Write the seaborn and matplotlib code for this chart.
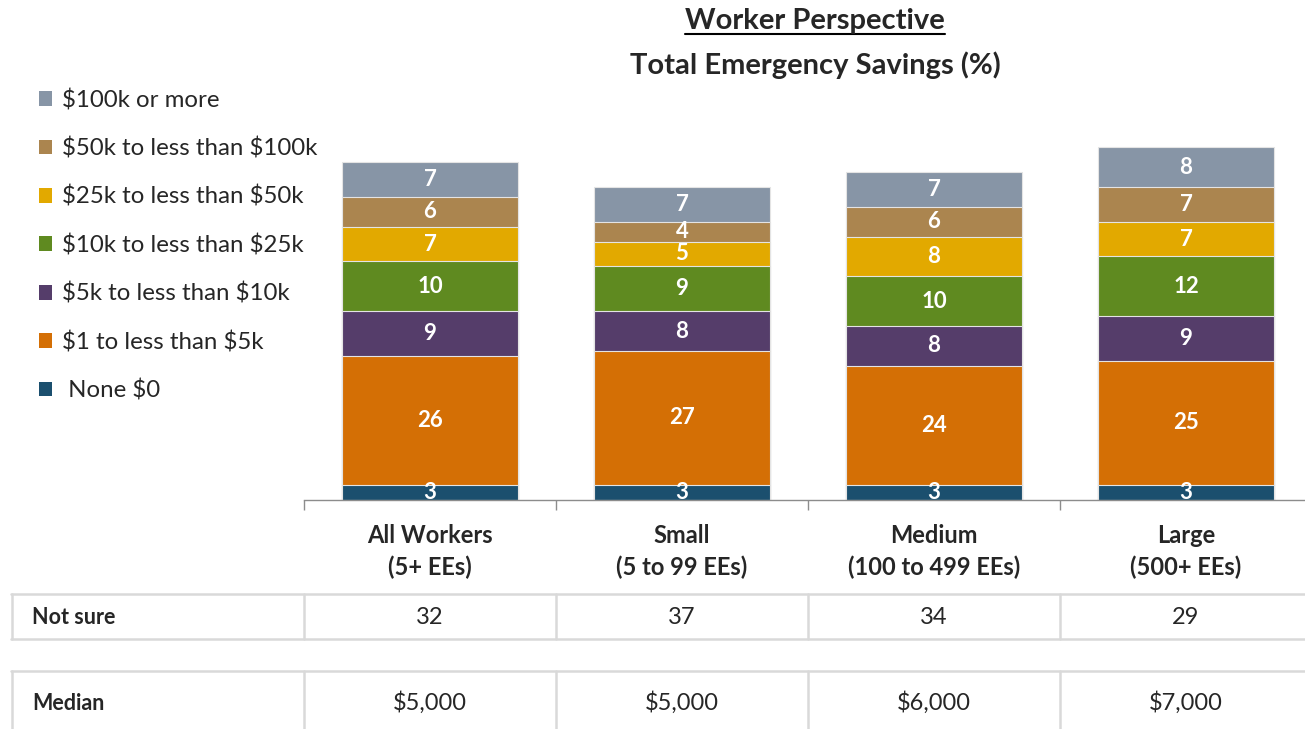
import matplotlib
matplotlib.use("Agg")
import matplotlib.pyplot as plt
import matplotlib.transforms as mtransforms
from matplotlib.lines import Line2D
from matplotlib.patches import Patch
import seaborn as sns
import pandas as pd
import numpy as np

# Data
groups = ["All Workers\n(5+ EEs)", "Small\n(5 to 99 EEs)",
          "Medium\n(100 to 499 EEs)", "Large\n(500+ EEs)"]
bands = ["None $0", "$1 to less than $5k", "$5k to less than $10k",
         "$10k to less than $25k", "$25k to less than $50k",
         "$50k to less than $100k", "$100k or more"]
none_0 = [3, 3, 3, 3]
k1_to_5 = [26, 27, 24, 25]
k5_to_10 = [9, 8, 8, 9]
k10_to_25 = [10, 9, 10, 12]
k25_to_50 = [7, 5, 8, 7]
k50_to_100 = [6, 4, 6, 7]
k100_plus = [7, 7, 7, 8]
not_sure = [32, 37, 34, 29]
median = ["$5,000", "$5,000", "$6,000", "$7,000"]

colors = ["#1B4F6E", "#D46F05", "#553D6A", "#5F8A20",
          "#E2A900", "#AB854F", "#8795A6"]

sns.set_theme(style="white")
plt.rcParams["font.family"] = ["Lato", "DejaVu Sans"]
plt.rcParams["text.parse_math"] = False

W, H = 1305, 729
fig = plt.figure(figsize=(W / 100, H / 100), dpi=100)
px = 4.97  # pixels per percentage point
ax = fig.add_axes([304 / W, 1 - 500 / H, 1008 / W, 80 * px / H])

stack = np.array([none_0, k1_to_5, k5_to_10, k10_to_25,
                  k25_to_50, k50_to_100, k100_plus])
tops = stack.cumsum(axis=0)

# stacked bars: tallest cumulative first, then smaller ones over it
for i in reversed(range(len(bands))):
    sub = pd.DataFrame({"group": groups, "top": tops[i]})
    sns.barplot(data=sub, x="group", y="top", order=groups, color=colors[i],
                saturation=1, width=0.7, errorbar=None, ax=ax,
                edgecolor="#E4E4E4", linewidth=0.8)

for i in range(len(bands)):
    for j in range(len(groups)):
        ax.text(j, tops[i][j] - stack[i][j] / 2, str(stack[i][j]),
                ha="center", va="center", color="white",
                fontsize=16, fontweight="bold")

ax.set_xlim(-0.5, 3.5)
ax.set_ylim(0, 80)
ax.set_xlabel("")
ax.set_ylabel("")
ax.set_yticks([])
ax.set_xticks([-0.5, 0.5, 1.5, 2.5, 3.5])
ax.set_xticklabels([])
ax.set_xticks(range(len(groups)), minor=True)
ax.set_xticklabels(groups, minor=True, fontsize=17, fontweight="bold",
                   linespacing=1.45)
ax.tick_params(axis="x", which="major", bottom=True, length=7.5,
               width=1, color="#8C8C8C")
ax.tick_params(axis="x", which="minor", bottom=True, length=0, pad=17)
for s in ["left", "top", "right"]:
    ax.spines[s].set_visible(False)
ax.spines["bottom"].set_color("#8C8C8C")
ax.spines["bottom"].set_linewidth(1)

# legend (top band first)
handles = [Patch(facecolor=colors[i], edgecolor="none")
           for i in reversed(range(len(bands)))]
labels = [bands[i] if i else " " + bands[i] for i in reversed(range(len(bands)))]
fig.legend(handles, labels, loc="upper left",
           bbox_to_anchor=(39 / W, 1 - 89 / H), frameon=False,
           fontsize=17.3, labelspacing=1.1, handlelength=0.56,
           handleheight=0.56, handletextpad=0.38, borderpad=0,
           borderaxespad=0)

# titles
t1 = fig.text(815 / W, 1 - 29 / H, "Worker Perspective", ha="center",
              va="baseline", fontsize=21, fontweight="bold")
fig.text(815 / W, 1 - 74 / H, "Total Emergency Savings (%)", ha="center",
         va="baseline", fontsize=21, fontweight="bold")
fig.canvas.draw()
bb = t1.get_window_extent()
uy = (1 - 34 / H)
fig.add_artist(Line2D([bb.x0 / W, bb.x1 / W], [uy, uy],
                      transform=fig.transFigure, color="black", lw=1.5))

# table below the chart
grid_c = "#D9D9D9"
trans = mtransforms.blended_transform_factory(ax.transData, fig.transFigure)
rows = [(594, 639, 617, "Not sure", [str(v) for v in not_sure]),
        (671, 740, 703, "Median", median)]
for y0, y1, yc, name, vals in rows:
    f0, f1 = 1 - y0 / H, 1 - y1 / H
    for f in (f0, f1):
        fig.add_artist(Line2D([11 / W, 1], [f, f], transform=fig.transFigure,
                              color=grid_c, lw=1.8))
    fig.add_artist(Line2D([12 / W, 12 / W], [f0, f1], transform=fig.transFigure,
                          color=grid_c, lw=1.8))
    for b in [-0.5, 0.5, 1.5, 2.5]:
        fig.add_artist(Line2D([b, b], [f0, f1], transform=trans,
                              color=grid_c, lw=1.8))
    ymid = 1 - yc / H
    fig.text(32 / W, ymid, name, ha="left", va="center",
             fontsize=15.5, fontweight="bold")
    for j, v in enumerate(vals):
        ax.text(j, ymid, v, transform=trans, ha="center", va="center",
                fontsize=17)

fig.savefig("out.png", dpi=100)
plt.close(fig)
